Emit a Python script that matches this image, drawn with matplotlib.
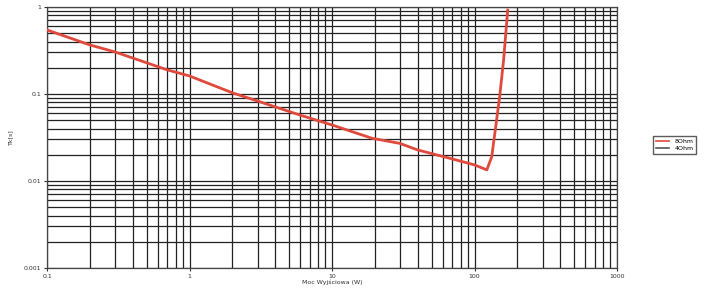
import matplotlib
matplotlib.use("Agg")
import matplotlib.pyplot as plt
from matplotlib.lines import Line2D
from matplotlib.ticker import FixedLocator, FixedFormatter, LogLocator, NullFormatter

# trip time vs output power
power_w = [0.1, 0.2, 0.3, 0.7, 1.0, 2.0, 3.0, 6.0, 10, 19, 30, 40, 70, 100, 122,
           132, 139, 150, 160, 171]
time_s = [0.544, 0.366, 0.304, 0.189, 0.161, 0.103, 0.083, 0.057, 0.044, 0.031,
          0.027, 0.0227, 0.0179, 0.0153, 0.0134, 0.0189, 0.0356, 0.092, 0.246, 0.92]

x_ticks = [0.1, 1, 10, 100, 1000]
x_labels = ["0.1", "1", "10", "100", "1000"]
y_ticks = [0.001, 0.01, 0.1, 1]
y_labels = ["0.001", "0.01", "0.1", "1"]

fig = plt.figure(figsize=(7.05, 2.9), dpi=100)
ax = fig.add_axes([0.0667, 0.076, 0.8085, 0.9])

ax.plot(power_w, time_s, color="#e04a3c", linewidth=2.0, zorder=3)

ax.set_xscale("log")
ax.set_yscale("log")
ax.set_xlim(0.1, 1000)
ax.set_ylim(0.001, 1)

ax.xaxis.set_major_locator(FixedLocator(x_ticks))
ax.xaxis.set_major_formatter(FixedFormatter(x_labels))
ax.yaxis.set_major_locator(FixedLocator(y_ticks))
ax.yaxis.set_major_formatter(FixedFormatter(y_labels))
ax.xaxis.set_minor_locator(LogLocator(base=10, subs=range(2, 10)))
ax.yaxis.set_minor_locator(LogLocator(base=10, subs=range(2, 10)))
ax.xaxis.set_minor_formatter(NullFormatter())
ax.yaxis.set_minor_formatter(NullFormatter())

ax.grid(True, which="both", color="#222222", linewidth=0.9)
ax.tick_params(which="both", length=2, labelsize=4.5, colors="#333333", pad=2)
ax.tick_params(which="minor", length=0)
for s in ax.spines.values():
    s.set_color("#444444")
    s.set_linewidth(0.9)

ax.set_xlabel("Moc Wyjściowa (W)", fontsize=4.5, color="#333333", labelpad=1)
ax.set_ylabel("Tk[s]", fontsize=4.5, color="#333333", labelpad=8)

handles = [Line2D([], [], color="#e04a3c", linewidth=1.2),
           Line2D([], [], color="#555555", linewidth=1.2)]
fig.legend(handles, ["8Ohm", "4Ohm"], loc="center left",
           bbox_to_anchor=(0.922, 0.5), fontsize=4.5, frameon=True,
           fancybox=False, edgecolor="#333333", handlelength=2.2,
           borderpad=0.4, labelspacing=0.3)

fig.savefig("out.png", dpi=100)
